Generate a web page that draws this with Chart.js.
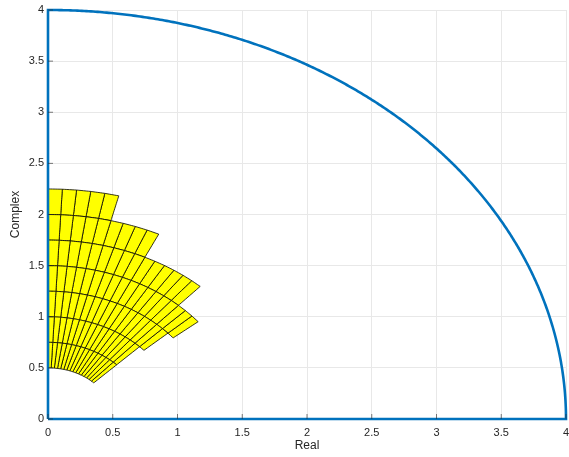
<!DOCTYPE html>
<html>
<head>
<meta charset="utf-8">
<script src="https://cdn.jsdelivr.net/npm/chart.js@4"></script>
<style>
  html, body { margin: 0; padding: 0; background: #fff; }
  #wrap { width: 569px; height: 457px; }
</style>
</head>
<body>
<div id="wrap"><canvas id="plot"></canvas></div>
<script>
// polar grid of the yellow region: ring edges (radius), angle step measured from the imaginary axis
var ringEdges = [0.5, 0.75, 1.0, 1.25, 1.5, 1.75, 2.0, 2.25];
var segmentsPerRing = [16, 16, 17, 18, 15, 9, 5];
var angleStepDeg = 2.8125;

// outer boundary: quarter circle
var boundaryRadius = 4;

var xTicks = [0, 0.5, 1, 1.5, 2, 2.5, 3, 3.5, 4];
var yTicks = [0, 0.5, 1, 1.5, 2, 2.5, 3, 3.5, 4];

function polar(r, degFromVertical) {
    var a = degFromVertical * Math.PI / 180;
    return { x: r * Math.sin(a), y: r * Math.cos(a) };
}

var datasets = [];

// quarter disc outline
var outline = [{ x: 0, y: 0 }, { x: boundaryRadius, y: 0 }];
for (var d = 90; d >= 0; d -= 0.5) {
    outline.push(polar(boundaryRadius, d));
}
outline.push({ x: 0, y: 0 });
datasets.push({
    data: outline,
    showLine: true,
    borderColor: 'rgb(0, 114, 189)',
    borderWidth: 2.6,
    pointRadius: 0,
    tension: 0.0001,
    fill: false,
    clip: false,
    order: 0
});

for (var i = 0; i < segmentsPerRing.length; i++) {
    var r1 = ringEdges[i], r2 = ringEdges[i + 1];
    for (var k = 0; k < segmentsPerRing[i]; k++) {
        var a1 = k * angleStepDeg, a2 = (k + 1) * angleStepDeg;
        var pts = [polar(r1, a1), polar(r1, a2), polar(r2, a2), polar(r2, a1), polar(r1, a1)];
        datasets.push({
            data: pts,
            showLine: true,
            borderColor: '#000000',
            borderWidth: 0.8,
            patchColor: 'rgb(255, 255, 0)',
            pointRadius: 0,
            tension: 0.0001,
            fill: false,
            order: 1
        });
    }
}

// fill each patch through the points the scales placed
var patchFill = {
    id: 'patchFill',
    beforeDatasetDraw: function(chart, args) {
        var ds = chart.data.datasets[args.index];
        if (!ds.patchColor) return;
        var pts = args.meta.data;
        var ctx = chart.ctx;
        ctx.save();
        ctx.beginPath();
        for (var j = 0; j < pts.length; j++) {
            if (j === 0) ctx.moveTo(pts[j].x, pts[j].y);
            else ctx.lineTo(pts[j].x, pts[j].y);
        }
        ctx.closePath();
        ctx.fillStyle = ds.patchColor;
        ctx.fill();
        ctx.restore();
    }
};

// MATLAB-style inward tick marks
var innerTicks = {
    id: 'innerTicks',
    afterDatasetsDraw: function(chart) {
        var ctx = chart.ctx, xs = chart.scales.x, ys = chart.scales.y, a = chart.chartArea;
        ctx.save();
        ctx.strokeStyle = '#262626';
        ctx.lineWidth = 0.6;
        ctx.beginPath();
        xTicks.forEach(function(v) {
            var px = xs.getPixelForValue(v);
            ctx.moveTo(px, a.bottom);
            ctx.lineTo(px, a.bottom - 5);
        });
        yTicks.forEach(function(v) {
            var py = ys.getPixelForValue(v);
            ctx.moveTo(a.left, py);
            ctx.lineTo(a.left + 5, py);
        });
        ctx.stroke();
        ctx.restore();
    }
};

var tickFont = { family: 'Liberation Sans', size: 11 };

var chart = new Chart(document.getElementById('plot'), {
    type: 'scatter',
    data: { datasets: datasets },
    plugins: [patchFill, innerTicks],
    options: {
        responsive: true,
        maintainAspectRatio: false,
        animation: false,
        layout: { padding: { top: 10, right: 3, left: 0, bottom: 0 } },
        elements: { line: { capBezierPoints: false } },
        plugins: {
            legend: { display: false },
            tooltip: { enabled: false }
        },
        scales: {
            x: {
                type: 'linear',
                min: 0,
                max: 4,
                afterBuildTicks: function(s) { s.ticks = xTicks.map(function(v) { return { value: v }; }); },
                afterFit: function(s) { s.height = 38; s.paddingLeft = 0; s.paddingRight = 0; },
                grid: { color: '#e8e8e8', drawTicks: false },
                border: { display: false },
                ticks: { padding: 7, color: '#262626', font: tickFont, maxRotation: 0,
                    callback: function(v) { return String(v); } },
                title: { display: true, text: 'Real', color: '#262626',
                    font: { family: 'Liberation Sans', size: 12 }, padding: { top: 0, bottom: 4 } }
            },
            y: {
                type: 'linear',
                min: 0,
                max: 4,
                afterBuildTicks: function(s) { s.ticks = yTicks.map(function(v) { return { value: v }; }); },
                afterFit: function(s) { s.width = 48; s.paddingTop = 0; s.paddingBottom = 0; },
                grid: { color: '#e8e8e8', drawTicks: false },
                border: { display: false },
                ticks: { padding: 4, color: '#262626', font: tickFont,
                    callback: function(v) { return String(v); } },
                title: { display: true, text: 'Complex', color: '#262626',
                    font: { family: 'Liberation Sans', size: 12 }, padding: { top: 8, bottom: 0 } }
            }
        }
    }
});
</script>
</body>
</html>
